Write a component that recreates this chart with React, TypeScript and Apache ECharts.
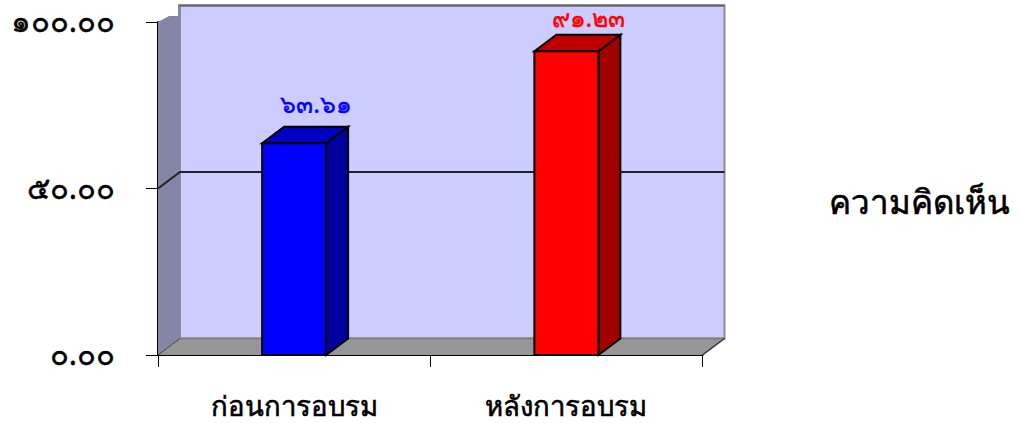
import React, { useEffect, useRef } from "react";
import * as echarts from "echarts";

const categories = ["ก่อนการอบรม", "หลังการอบรม"];
const values = [63.61, 91.23];
const yMin = 0;
const yMax = 100;
const yStep = 50;
const gridValues = [50];
const seriesName = "ความคิดเห็น";
const frontColors = ["#0000FF", "#FF0000"];
const topColors = ["#0000C0", "#C00000"];
const sideColors = ["#00009F", "#A00000"];
const labelColors = ["#0000FF", "#FF0000"];

const DEPTH_X = 22;
const DEPTH_Y = 16.5;
const BAR_W = 64;
const FONT = '"Noto Sans", "DejaVu Sans", Tahoma, sans-serif';

const thaiDigits = "๐๑๒๓๔๕๖๗๘๙";
const toThai = (v: number) =>
  v.toFixed(2).replace(/[0-9]/g, (d) => thaiDigits[Number(d)]);

const poly = (points: number[][], fill: string, stroke?: string, lineWidth = 0) => ({
  type: "polygon",
  shape: { points },
  style: { fill, stroke: stroke ?? fill, lineWidth },
  silent: true,
});

const renderWalls = (_p: any, api: any) => {
  const band = api.size([1, 0])[0];
  const x0 = api.coord([0, yMin])[0] - band / 2;
  const x1 = api.coord([categories.length - 1, yMin])[0] + band / 2;
  const y0 = api.coord([0, yMin])[1];
  const y1 = api.coord([0, yMax])[1];
  const dx = DEPTH_X;
  const dy = DEPTH_Y;
  const children: any[] = [
    // back wall
    poly(
      [
        [x0 + dx, y1 - dy],
        [x1 + dx, y1 - dy],
        [x1 + dx, y0 - dy],
        [x0 + dx, y0 - dy],
      ],
      "#CCCCFF",
      "#8C8C8C",
      2
    ),
    // top edge of the back wall
    {
      type: "line",
      shape: { x1: x0 + dx - 2, y1: y1 - dy, x2: x1 + dx, y2: y1 - dy },
      style: { stroke: "#606060", lineWidth: 2 },
    },
    // left side wall, clipped at the top as in the picture
    poly(
      [
        [x0, y0],
        [x0, y1],
        [x0 + 11, y1 - 6],
        [x0 + dx - 2, y1 - 6],
        [x0 + dx - 2, y1 - dy],
        [x0 + dx, y1 - dy],
        [x0 + dx, y0 - dy],
      ],
      "#8585A8"
    ),
    // floor
    poly(
      [
        [x0, y0],
        [x0 + dx, y0 - dy],
        [x1 + dx, y0 - dy],
        [x1, y0],
      ],
      "#969696"
    ),
    {
      type: "line",
      shape: { x1: x0 + dx, y1: y0 - dy, x2: x1 + dx, y2: y0 - dy },
      style: { stroke: "#808080", lineWidth: 2 },
    },
    {
      type: "line",
      shape: { x1: x1, y1: y0, x2: x1 + dx, y2: y0 - dy },
      style: { stroke: "#303030", lineWidth: 1.5 },
    },
    {
      type: "line",
      shape: { x1: x0, y1: y0, x2: x0 + dx, y2: y0 - dy },
      style: { stroke: "#404040", lineWidth: 1 },
    },
  ];
  gridValues.forEach((v) => {
    const gy = api.coord([0, v])[1];
    children.push({
      type: "polyline",
      shape: {
        points: [
          [x0, gy],
          [x0 + dx, gy - dy],
          [x1 + dx, gy - dy],
        ],
      },
      style: { fill: "none", stroke: "#222222", lineWidth: 2 },
    });
  });
  return { type: "group", children };
};

const renderBar = (params: any, api: any) => {
  const i = params.dataIndex;
  const [cx, top] = api.coord([i, api.value(1)]);
  const bottom = api.coord([i, yMin])[1];
  const l = cx - BAR_W / 2;
  const r = cx + BAR_W / 2;
  const dx = DEPTH_X;
  const dy = DEPTH_Y;
  const edge = "#000000";
  return {
    type: "group",
    children: [
      poly(
        [
          [r, top],
          [r + dx, top - dy],
          [r + dx, bottom - dy],
          [r, bottom],
        ],
        sideColors[i],
        edge,
        2
      ),
      poly(
        [
          [l, top],
          [l + dx, top - dy],
          [r + dx, top - dy],
          [r, top],
        ],
        topColors[i],
        edge,
        2
      ),
      poly(
        [
          [l, top],
          [r, top],
          [r, bottom],
          [l, bottom],
        ],
        frontColors[i],
        edge,
        2
      ),
      {
        type: "text",
        x: cx + 22,
        y: Math.max(17, top - dy - 24),
        style: {
          text: toThai(api.value(1)),
          fill: labelColors[i],
          font: `normal 25px ${FONT}`,
          stroke: labelColors[i],
          lineWidth: 0.4,
          textAlign: "center",
          textVerticalAlign: "middle",
        },
      },
    ],
  };
};

export default function App() {
  const ref = useRef<HTMLDivElement>(null);
  useEffect(() => {
    document.body.style.margin = "0";
    const chart = echarts.init(ref.current!, undefined, { renderer: "svg" });
    chart.setOption({
      animation: false,
      backgroundColor: "#FFFFFF",
      grid: { left: 158, top: 22, width: 544.5, height: 333, containLabel: false },
      legend: {
        show: true,
        data: [seriesName],
        right: 3,
        top: 180,
        itemWidth: 0,
        itemHeight: 0,
        selectedMode: false,
        icon: "rect",
        textStyle: {
          color: "#000000",
          fontSize: 33,
          fontWeight: "normal",
          fontFamily: FONT,
          textBorderColor: "#000000",
          textBorderWidth: 0.6,
        },
      },
      xAxis: {
        type: "category",
        data: categories,
        boundaryGap: true,
        axisLine: { show: true, lineStyle: { color: "#000000", width: 2 } },
        axisTick: { show: true, length: 12, alignWithLabel: false, lineStyle: { color: "#000000", width: 1 } },
        axisLabel: {
          color: "#000000",
          fontSize: 27.5,
          fontWeight: "normal",
          fontFamily: FONT,
          margin: 36,
          textBorderColor: "#000000",
          textBorderWidth: 0.6,
        },
        splitLine: { show: false },
      },
      yAxis: {
        type: "value",
        min: yMin,
        max: yMax,
        interval: yStep,
        axisLine: { show: true, lineStyle: { color: "#000000", width: 2 } },
        axisTick: { show: true, length: 12, lineStyle: { color: "#000000", width: 1 } },
        axisLabel: {
          color: "#000000",
          fontSize: 31,
          fontWeight: "normal",
          fontFamily: FONT,
          margin: 43,
          verticalAlign: "bottom",
          lineHeight: 4,
          textBorderColor: "#000000",
          textBorderWidth: 0.4,
          formatter: (v: number) => toThai(v),
        },
        splitLine: { show: false },
      },
      series: [
        {
          name: "walls",
          type: "custom",
          renderItem: renderWalls,
          data: [[0, 0]],
          silent: true,
          z: 1,
          clip: false,
        },
        {
          name: seriesName,
          type: "custom",
          renderItem: renderBar,
          data: values.map((v, i) => [i, v]),
          encode: { x: 0, y: 1 },
          itemStyle: { color: "#0000FF" },
          z: 2,
          clip: false,
        },
      ],
    });
    return () => chart.dispose();
  }, []);
  return <div ref={ref} style={{ width: 1018, height: 423 }} />;
}
